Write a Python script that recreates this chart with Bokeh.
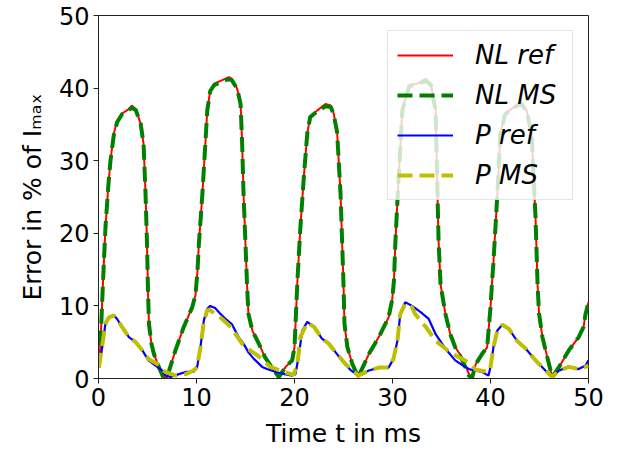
from bokeh.plotting import figure
from bokeh.models import Range1d, Legend, LegendItem, FixedTicker
from bokeh.embed import file_html
from bokeh.resources import INLINE

# ---- data ----
t_nl_ref = [0, 0.15, 0.3, 0.45, 0.71, 1.0, 1.22, 1.56, 1.9, 2.4, 3.1, 3.4, 3.8, 4.3, 4.6, 4.8,
            4.95, 5.05, 5.15, 5.4, 5.65, 6.15, 6.67, 7.0, 7.86, 8.7, 9.56, 9.9, 10.1, 10.24,
            10.6, 10.9, 11.1, 11.4, 11.8, 12.45, 12.96, 13.3, 13.6, 14.15, 14.5, 14.66, 14.8,
            15.0, 15.17, 15.3, 15.7, 16.36, 17.0, 17.9, 18.4, 19.1, 19.76, 20.0, 20.15, 20.3,
            20.6, 20.95, 21.3, 21.6, 22.3, 23.16, 23.7, 24.0, 24.35, 24.7, 25.0, 25.1, 25.4,
            25.9, 26.5, 27.6, 28.6, 29.6, 29.97, 30.15, 30.3, 30.6, 31.0, 31.7, 32.5, 33.4,
            33.9, 34.4, 34.55, 34.7, 34.9, 35.2, 35.4, 35.9, 36.4, 37.1, 37.8, 38.1, 38.5,
            39.15, 39.66, 39.8, 40.0, 40.17, 40.3, 40.7, 41.0, 41.5, 42.4, 43.1, 43.7, 44.2,
            44.6, 44.8, 44.95, 45.3, 45.8, 46.3, 47.0, 48.0, 49.0, 49.5, 49.7, 50.0]
nl_ref = [1.5, 3.5, 8.0, 13.0, 20.8, 26.5, 30.0, 33.7, 35.5, 36.5, 37.1, 37.6, 37.1, 35.1, 32.3, 25.4,
          18.6, 12.1, 7.5, 4.8, 3.4, 1.6, 0.0, 0.2, 3.9, 7.1, 9.8, 11.5, 14.8, 18.5,
          25.4, 32.3, 36.9, 39.7, 40.6, 41.0, 41.3, 41.5, 41.3, 39.9, 37.8, 32.3, 25.4,
          18.5, 12.5, 8.9, 6.6, 4.8, 2.9, 1.1, 0.2, 1.6, 2.5, 4.3, 8.9, 13.5,
          20.8, 27.7, 33.7, 36.0, 36.9, 37.8, 37.6, 36.5, 33.9, 25.4, 13.0, 7.5, 4.3,
          2.0, 0.2, 3.4, 5.7, 8.4, 10.9, 13.5, 19.0, 27.0, 36.9, 40.4, 40.6, 41.3,
          40.6, 36.9, 28.0, 19.0, 13.0, 10.5, 8.9, 6.1, 4.3, 2.9, 0.6, 0.0, 2.0,
          3.4, 4.3, 6.6, 9.8, 13.5, 16.0, 25.4, 33.7, 36.5, 37.4, 38.1, 36.9, 33.7,
          22.0, 13.0, 9.0, 5.7, 2.9, 0.2, 1.6, 3.9, 5.7, 7.1, 8.9, 10.5]

t_nl_ms = t_nl_ref
nl_ms = [1.5, 3.5, 8.0, 13.0, 20.8, 26.5, 30.0, 33.5, 35.3, 36.4, 37.0, 37.3, 37.0, 35.1, 32.3, 25.4,
         18.6, 12.1, 7.5, 4.8, 3.4, 1.6, 0.0, 0.2, 3.9, 7.1, 9.8, 11.5, 14.8, 18.5,
         25.4, 32.3, 36.9, 39.6, 40.4, 40.8, 41.1, 41.2, 41.1, 39.9, 37.8, 32.3, 25.4,
         18.5, 12.5, 8.9, 6.6, 4.8, 2.9, 1.1, 0.2, 1.6, 2.5, 4.3, 8.9, 13.5,
         20.8, 27.7, 33.7, 36.0, 36.8, 37.5, 37.4, 36.4, 33.9, 25.4, 13.0, 7.5, 4.3,
         2.0, 0.2, 3.4, 5.7, 8.4, 10.9, 13.5, 19.0, 27.0, 36.9, 40.3, 40.5, 41.0,
         40.5, 36.9, 28.0, 19.0, 13.0, 10.5, 8.9, 6.1, 4.3, 2.6, 0.4, 0.0, 2.0,
         3.4, 4.3, 6.6, 9.8, 13.5, 16.0, 25.4, 33.7, 36.4, 37.3, 37.9, 36.8, 33.7,
         22.0, 13.0, 9.0, 5.7, 2.9, 0.2, 1.6, 3.9, 5.7, 7.1, 8.9, 10.5]

t_p_ref = [0, 0.1, 0.38, 0.7, 1.05, 1.56, 1.9, 2.4, 3.1, 3.8, 4.46, 5.1, 6.0, 6.5, 6.84, 7.35,
           8.2, 8.9, 9.7, 10.07, 10.4, 10.75, 11.1, 11.4, 11.9, 12.45, 12.96, 13.6, 14.3,
           14.8, 15.3, 15.85, 16.7, 17.2, 18.1, 19.0, 19.76, 20.1, 20.4, 20.8, 21.3, 22.0,
           22.8, 23.5, 24.2, 25.0, 25.7, 26.5, 27.6, 28.6, 29.6, 30.1, 30.5, 30.8, 31.3,
           32.0, 32.9, 33.7, 34.4, 35.4, 36.4, 37.4, 37.8, 39.15, 39.8, 40.0, 40.3, 40.7,
           41.2, 41.9, 42.7, 43.6, 44.6, 45.6, 46.3, 47.0, 48.0, 49.0, 49.7, 50.0]
p_ref = [1.5, 2.0, 4.3, 7.5, 8.4, 8.7, 8.2, 7.1, 5.7, 5.0, 3.9, 2.5, 1.6, 1.1, 0.4, 0.2,
         0.6, 0.9, 0.9, 1.6, 4.3, 8.0, 9.6, 10.0, 9.7, 8.9, 8.2, 7.5, 5.7,
         4.8, 3.6, 2.7, 1.6, 1.3, 0.9, 0.6, 0.4, 0.6, 2.9, 6.6, 7.8, 7.1,
         5.5, 4.8, 3.6, 2.2, 1.2, 0.4, 1.1, 1.5, 1.5, 2.7, 5.2, 8.9, 10.5,
         10.0, 9.1, 8.2, 6.1, 4.1, 2.5, 1.6, 1.3, 0.9, 0.4, 1.6, 4.3, 6.6,
         7.4, 6.8, 5.2, 4.1, 2.5, 1.1, 0.2, 1.1, 1.6, 1.3, 1.8, 2.5]

t_p_ms = [0, 0.1, 0.38, 0.7, 1.05, 1.56, 1.9, 2.4, 3.1, 3.8, 4.46, 5.1, 6.0, 6.8, 7.9, 8.9,
          9.7, 10.07, 10.4, 10.75, 11.1, 11.3, 11.8, 12.45, 13.5, 14.8, 16.2, 17.55, 18.9,
          19.9, 20.3, 20.6, 21.3, 22.0, 22.8, 23.5, 24.2, 25.2, 26.5, 27.6, 28.6, 29.6,
          30.1, 30.5, 30.8, 31.3, 32.0, 32.3, 33.4, 34.4, 35.6, 36.4, 37.4, 37.9, 38.5,
          39.8, 40.0, 40.3, 40.7, 41.2, 41.9, 42.7, 43.6, 44.6, 45.6, 46.3, 47.0, 48.0,
          49.0, 49.7, 50.0]
p_ms = [1.5, 2.0, 4.5, 7.5, 8.4, 8.7, 8.2, 7.1, 5.7, 5.0, 3.9, 2.7, 2.0, 0.9, 0.4, 0.6,
        1.1, 1.6, 4.3, 7.8, 9.4, 9.5, 9.0, 8.4, 7.1, 4.5, 3.2, 1.6, 0.9,
        0.5, 2.0, 5.7, 7.7, 7.1, 5.5, 4.8, 3.6, 2.0, 0.4, 1.1, 1.5, 1.5,
        2.7, 5.2, 8.9, 10.3, 9.8, 8.9, 7.1, 5.2, 3.9, 3.2, 2.5, 2.1, 1.2,
        0.9, 1.6, 4.3, 6.6, 7.4, 6.8, 5.2, 4.1, 2.5, 1.1, 0.2, 1.1, 1.6,
        1.3, 1.6, 1.8]

x_ticks = [0, 10, 20, 30, 40, 50]
y_ticks = [0, 10, 20, 30, 40, 50]
labels = ["NL ref", "NL MS", "P ref", "P MS"]

FONT = "DejaVu Sans"

p = figure(width=604, height=434, output_backend="svg", toolbar_location=None,
           x_range=Range1d(0, 50), y_range=Range1d(0, 50),
           frame_width=490, frame_height=363,
           min_border_left=98, min_border_right=16, min_border_top=15, min_border_bottom=56)

r1 = p.line(t_nl_ref, nl_ref, line_color="#ff0000", line_width=2)
r2 = p.line(t_nl_ms, nl_ms, line_color="#008000", line_width=4, line_dash="15 7")
r3 = p.line(t_p_ref, p_ref, line_color="#0000ff", line_width=2.2)
r4 = p.line(t_p_ms, p_ms, line_color="#bfbf00", line_width=4, line_dash="15 7")

p.xgrid.visible = False
p.ygrid.visible = False
p.outline_line_color = "#222222"
p.outline_line_width = 1

for ax, ticks in ((p.xaxis[0], x_ticks), (p.yaxis[0], y_ticks)):
    ax.ticker = FixedTicker(ticks=ticks)
    ax.minor_tick_line_color = None
    ax.major_tick_in = 0
    ax.major_tick_out = 5
    ax.major_tick_line_color = "#222222"
    ax.axis_line_color = "#222222"
    ax.major_label_text_font = FONT
    ax.major_label_text_font_size = "24px"
    ax.major_label_text_color = "#000000"
    ax.axis_label_text_font = FONT
    ax.axis_label_text_font_size = "25px"
    ax.axis_label_text_font_style = "normal"
    ax.axis_label_text_color = "#000000"

p.xaxis.axis_label = "Time t in ms"
p.yaxis.axis_label = "Error in % of I\u2098\u2090\u2093"
p.xaxis.axis_label_standoff = 10
p.yaxis.axis_label_standoff = 9
p.xaxis.major_label_standoff = 4
p.yaxis.major_label_standoff = 4

legend = Legend(items=[LegendItem(label=labels[0], renderers=[r1]),
                       LegendItem(label=labels[1], renderers=[r2]),
                       LegendItem(label=labels[2], renderers=[r3]),
                       LegendItem(label=labels[3], renderers=[r4])],
                location="top_right")
legend.label_text_font = FONT
legend.label_text_font_size = "26px"
legend.label_text_font_style = "italic"
legend.label_text_color = "#000000"
legend.glyph_width = 56
legend.glyph_height = 30
legend.label_height = 30
legend.label_width = 88
legend.label_standoff = 22
legend.spacing = 10
legend.padding = 9
legend.margin = 15
legend.background_fill_alpha = 0.8
legend.border_line_color = "#cccccc"
legend.border_line_width = 1
p.add_layout(legend)

open("out.html", "w").write(file_html(p, INLINE))
